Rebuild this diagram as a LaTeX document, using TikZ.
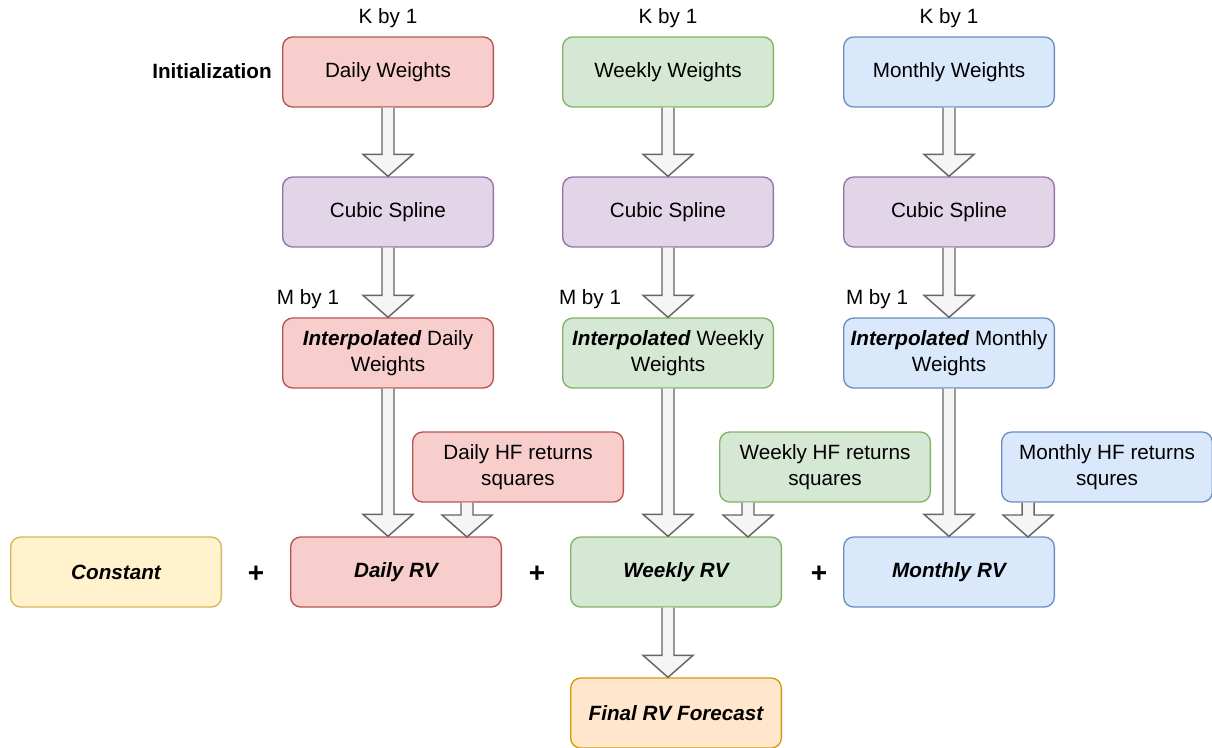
\documentclass[tikz,border=0pt]{standalone}
\usepackage{fontspec}
\setmainfont{Liberation Sans}
\usetikzlibrary{calc}
\definecolor{dayfill}{RGB}{248,206,204}
\definecolor{dayline}{RGB}{184,84,80}
\definecolor{weekfill}{RGB}{213,232,212}
\definecolor{weekline}{RGB}{130,179,102}
\definecolor{monthfill}{RGB}{218,232,252}
\definecolor{monthline}{RGB}{108,142,191}
\definecolor{splinefill}{RGB}{225,213,231}
\definecolor{splineline}{RGB}{150,115,166}
\definecolor{constfill}{RGB}{255,242,204}
\definecolor{constline}{RGB}{214,182,86}
\definecolor{finalfill}{RGB}{255,230,204}
\definecolor{finalline}{RGB}{215,155,0}
\definecolor{arrowfill}{RGB}{245,245,245}
\definecolor{arrowline}{RGB}{102,102,102}
\newcommand{\diagfont}{\fontsize{15.5}{19.5}\selectfont}
% hollow block arrow, straight down from #1 to the tip #2
\newcommand{\blockarrow}[2]{%
  \filldraw[fill=arrowfill, draw=arrowline, line width=1.1pt] let \p1=(#1), \p2=(#2) in
    (\x1-4.5pt,\y1) -- (\x1-4.5pt,\y2+16.5pt) -- (\x1-18.75pt,\y2+16.5pt) -- (\x1,\y2)
    -- (\x1+18.75pt,\y2+16.5pt) -- (\x1+4.5pt,\y2+16.5pt) -- (\x1+4.5pt,\y1);}

\begin{document}
\begin{tikzpicture}[x=0.75pt, y=-0.75pt,
  box/.style={draw, rounded corners=7.5pt, line width=1pt, minimum width=158pt,
              minimum height=52.5pt, align=center, font=\diagfont},
  daybox/.style={box, fill=dayfill, draw=dayline},
  weekbox/.style={box, fill=weekfill, draw=weekline},
  monthbox/.style={box, fill=monthfill, draw=monthline},
  splinebox/.style={box, fill=splinefill, draw=splineline},
  lbl/.style={font=\diagfont},
  plus/.style={font=\fontsize{21}{24}\selectfont\bfseries}]
  \useasboundingbox (0,0) rectangle (1212,747);

  % Initial weights
  \node[lbl] (kd) at (388,18) {K by 1};
  \node[lbl] (kw) at (668,18) {K by 1};
  \node[lbl] (km) at (949,18) {K by 1};
  \node[lbl, font=\diagfont\bfseries] (init) at (212,71) {Initialization};
  \node[daybox] (dw) at (388,72) {Daily Weights};
  \node[weekbox] (ww) at (668,72) {Weekly Weights};
  \node[monthbox] (mw) at (949,72) {Monthly Weights};

  % Splines
  \node[splinebox] (dcs) at (388,212) {Cubic Spline};
  \node[splinebox] (wcs) at (668,212) {Cubic Spline};
  \node[splinebox] (mcs) at (949,212) {Cubic Spline};

  % Interpolated weights
  \node[lbl] (md) at (308,299) {M by 1};
  \node[lbl] (mwk) at (590,299) {M by 1};
  \node[lbl] (mm) at (877,299) {M by 1};
  \node[daybox] (idw) at (388,353) {\textbf{\textit{Interpolated}} Daily\\Weights};
  \node[weekbox] (iww) at (668,353) {\textbf{\textit{Interpolated}} Weekly\\Weights};
  \node[monthbox] (imw) at (949,353) {\textbf{\textit{Interpolated}} Monthly\\Weights};

  % High frequency returns
  \node[daybox] (hfd) at (518,467) {Daily HF returns\\squares};
  \node[weekbox] (hfw) at (825,467) {Weekly HF returns\\squares};
  \node[monthbox] (hfm) at (1107,467) {Monthly HF returns\\squres};

  % RV components
  \node[box, fill=constfill, draw=constline, font=\diagfont\bfseries\itshape] (cst) at (116,572) {Constant};
  \node[daybox, font=\diagfont\bfseries\itshape] (drv) at (396,572) {Daily RV};
  \node[weekbox, font=\diagfont\bfseries\itshape] (wrv) at (676,572) {Weekly RV};
  \node[monthbox, font=\diagfont\bfseries\itshape] (mrv) at (949,572) {Monthly RV};
  \node[plus] (p1) at (256,574) {+};
  \node[plus] (p2) at (537,574) {+};
  \node[plus] (p3) at (819,574) {+};
  \node[box, fill=finalfill, draw=finalline, font=\diagfont\bfseries\itshape] (frv) at (676,713) {Final RV Forecast};

  \coordinate (dsq) at (467,537);
  \coordinate (wsq) at (748,537);
  \coordinate (msq) at (1028,537);

  % Arrows
  \blockarrow{dw.south}{dcs.north}
  \blockarrow{ww.south}{wcs.north}
  \blockarrow{mw.south}{mcs.north}
  \blockarrow{dcs.south}{idw.north}
  \blockarrow{wcs.south}{iww.north}
  \blockarrow{mcs.south}{imw.north}
  \blockarrow{idw.south}{idw.south |- drv.north}
  \blockarrow{iww.south}{iww.south |- wrv.north}
  \blockarrow{imw.south}{imw.south |- mrv.north}
  \blockarrow{hfd.south -| dsq}{dsq}
  \blockarrow{hfw.south -| wsq}{wsq}
  \blockarrow{hfm.south -| msq}{msq}
  \blockarrow{iww.south |- wrv.south}{iww.south |- frv.north}
\end{tikzpicture}
\end{document}
